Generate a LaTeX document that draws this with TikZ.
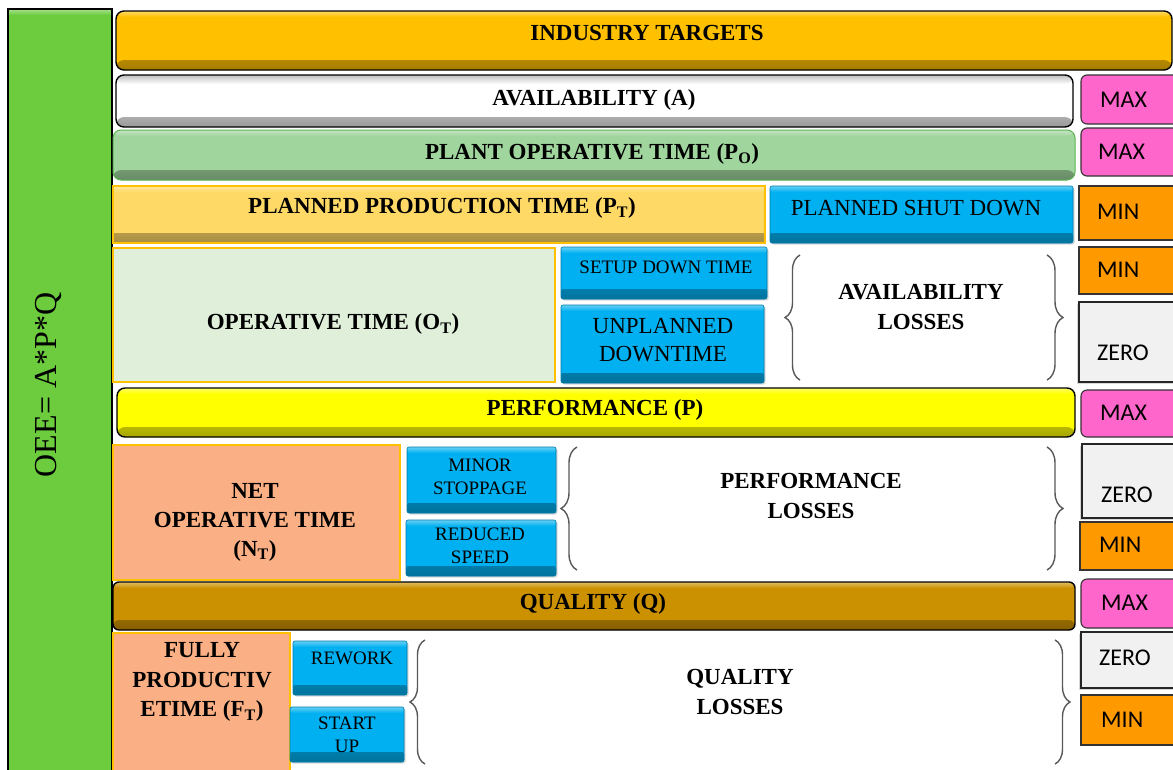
\documentclass[tikz,border=0pt]{standalone}
\usepackage{fontspec}
\setmainfont{Liberation Serif}
\newfontfamily\calfont{Carlito}
\usetikzlibrary{decorations.pathreplacing,shadows}

\definecolor{cOEE}{RGB}{108,204,62}
\definecolor{cGold}{RGB}{255,192,0}
\definecolor{cPlant}{RGB}{160,213,158}
\definecolor{cPlantB}{RGB}{90,180,80}
\definecolor{cPPT}{RGB}{255,217,102}
\definecolor{cBlue}{RGB}{0,176,240}
\definecolor{cOpt}{RGB}{224,239,218}
\definecolor{cYellow}{RGB}{255,255,0}
\definecolor{cSalmon}{RGB}{250,176,132}
\definecolor{cQual}{RGB}{204,145,0}
\definecolor{cPink}{RGB}{255,102,204}
\definecolor{cOrange}{RGB}{255,153,0}
\definecolor{cZero}{RGB}{241,241,241}

\newcommand\bx[6]{\node[#2, minimum width={#5-#3}, minimum height={#6-#4}, inner sep=0pt, outer sep=0pt] (#1) at ({(#3+#5)/2},{(#4+#6)/2}) {};}

\begin{document}
\begin{tikzpicture}[x=1pt,y=-1pt,
  bev/.style={fill=#1, path picture={
     \shade[top color=#1, bottom color=#1!65!black] ([yshift=10pt]path picture bounding box.south west) rectangle (path picture bounding box.south east);
     \shade[top color=#1!60!white, bottom color=#1] (path picture bounding box.north west) rectangle ([yshift=-6pt]path picture bounding box.north east);}},
  oeebar/.style={bev=cOEE, draw=black, line width=1.5pt},
  goldbar/.style={bev=cGold, draw=black, line width=1.4pt, rounded corners=8pt},
  whitebar/.style={fill=white, path picture={
     \shade[top color=white, bottom color=black!40] ([yshift=10pt]path picture bounding box.south west) rectangle (path picture bounding box.south east);
     \shade[top color=black!25, bottom color=white] (path picture bounding box.north west) rectangle ([yshift=-9pt]path picture bounding box.north east);},
     draw=black, line width=1.4pt, rounded corners=8pt},
  plantbar/.style={bev=cPlant, draw=cPlantB, line width=1pt, rounded corners=8pt},
  yellowbar/.style={bev=cYellow, draw=black, line width=1.4pt, rounded corners=8pt},
  qualbar/.style={bev=cQual, draw=black, line width=1.4pt, rounded corners=6pt},
  pptbox/.style={bev=cPPT, draw=cGold, line width=2pt},
  optbox/.style={fill=cOpt, draw=cGold, line width=1.5pt},
  salbox/.style={fill=cSalmon, draw=cGold, line width=1.5pt},
  bluebox/.style={bev=cBlue, draw=cBlue!70!black, line width=0.6pt, rounded corners=2pt,
     drop shadow={opacity=0.3, shadow xshift=1.5pt, shadow yshift=-1.5pt}},
  pinkbox/.style={fill=cPink, draw=black!80, line width=1.1pt, rounded corners=6pt},
  minbox/.style={fill=cOrange, draw=black!80, line width=1.1pt},
  zerobox/.style={fill=cZero, draw=black!85, line width=1.3pt,
     drop shadow={opacity=0.3, shadow xshift=-2pt, shadow yshift=-2pt}},
  lbl/.style={font=\bfseries\fontsize{23}{30}\selectfont, align=center, inner sep=0pt},
  mdl/.style={font=\fontsize{23}{28}\selectfont, align=center, inner sep=0pt},
  sml/.style={font=\fontsize{19}{23.5}\selectfont, align=center, inner sep=0pt},
  tag/.style={font=\calfont\fontsize{24}{28}\selectfont, anchor=west, inner sep=0pt},
  brc/.style={decorate, decoration={brace, amplitude=#1}, line width=1.4pt, draw=black!65}
]
\useasboundingbox (0,0) rectangle (1173,769);
\clip (0,0) rectangle (1173,769);
\fill[white] (0,0) rectangle (1173,769);

% boxes
\bx{oee}{oeebar}{8}{9}{112}{780}
\bx{ind}{goldbar}{116}{11}{1172}{70}
\bx{avl}{whitebar}{116}{75}{1073}{127}
\bx{max1}{pinkbox}{1081}{75}{1190}{124}
\bx{pot}{plantbar}{113}{130}{1075}{180}
\bx{max2}{pinkbox}{1081}{128}{1190}{176}
\bx{ppt}{pptbox}{113}{186}{765}{243}
\bx{psd}{bluebox}{770}{186}{1073}{243}
\bx{min1}{minbox}{1079}{186}{1190}{240}
\bx{opt}{optbox}{113}{248}{555}{382}
\bx{sdt}{bluebox}{561}{247}{767}{299}
\bx{upd}{bluebox}{561}{305}{764}{383}
\bx{min2}{minbox}{1079}{247}{1190}{294}
\bx{zero1}{zerobox}{1079}{302}{1190}{382}
\bx{perf}{yellowbar}{117}{388}{1075}{437}
\bx{max3}{pinkbox}{1081}{390}{1190}{437}
\bx{net}{salbox}{113}{445}{400}{580}
\bx{mst}{bluebox}{407}{447}{556}{513}
\bx{rsp}{bluebox}{406}{520}{556}{576}
\bx{zero2}{zerobox}{1082}{444}{1190}{518}
\bx{min3}{minbox}{1080}{522}{1190}{570}
\bx{qual}{qualbar}{113}{582}{1075}{630}
\bx{max4}{pinkbox}{1081}{579}{1190}{628}
\bx{fpt}{salbox}{113}{633}{290}{780}
\bx{rwk}{bluebox}{293}{641}{407}{695}
\bx{stu}{bluebox}{290}{707}{404}{762}
\bx{zero3}{zerobox}{1081}{632}{1190}{688}
\bx{min4}{minbox}{1081}{695}{1190}{745}

% texts
\node[rotate=90, font=\fontsize{32}{36}\selectfont, inner sep=0pt] (toee) at (48,385) {OEE= A*P*Q};
\node[lbl] (tind) at (647,33) {INDUSTRY TARGETS};
\node[lbl] (tavl) at (594,100) {AVAILABILITY (A)};
\node[lbl] (tpot) at (592,154) {PLANT OPERATIVE TIME (P\textsubscript{O})};
\node[lbl] (tppt) at (442,208) {PLANNED PRODUCTION TIME (P\textsubscript{T})};
\node[mdl] (tpsd) at (916,208) {PLANNED SHUT DOWN};
\node[lbl] (topt) at (333,324) {OPERATIVE TIME (O\textsubscript{T})};
\node[sml] (tsdt) at (666,267) {SETUP DOWN TIME};
\node[mdl] (tupd) at (663,340) {UNPLANNED\\DOWNTIME};
\node[lbl] (tavll) at (921,307) {AVAILABILITY\\LOSSES};
\node[lbl] (tperf) at (595,410) {PERFORMANCE (P)};
\node[lbl, font=\bfseries\fontsize{23}{29}\selectfont] (tnet) at (255,522) {NET\\OPERATIVE TIME\\(N\textsubscript{T})};
\node[sml] (tmst) at (480,477) {MINOR\\STOPPAGE};
\node[sml] (trsp) at (480,546) {REDUCED\\SPEED};
\node[lbl] (tperfl) at (811,496) {PERFORMANCE\\LOSSES};
\node[lbl] (tqual) at (593,604) {QUALITY (Q)};
\node[lbl, font=\bfseries\fontsize{23}{29.5}\selectfont] (tfpt) at (202,682) {FULLY\\PRODUCTIV\\ETIME (F\textsubscript{T})};
\node[sml] (trwk) at (352,658) {REWORK};
\node[sml] (tstu) at (347,735) {START\\UP};
\node[lbl] (tquall) at (740,692) {QUALITY\\LOSSES};

\node[tag] (tmax1) at (1100,100) {MAX};
\node[tag] (tmax2) at (1098,152) {MAX};
\node[tag] (tmin1) at (1097,212) {MIN};
\node[tag] (tmin2) at (1097,270) {MIN};
\node[tag] (tzero1) at (1097,353) {ZERO};
\node[tag] (tmax3) at (1100,413) {MAX};
\node[tag] (tzero2) at (1101,495) {ZERO};
\node[tag] (tmin3) at (1099,545) {MIN};
\node[tag] (tmax4) at (1101,603) {MAX};
\node[tag] (tzero3) at (1099,658) {ZERO};
\node[tag] (tmin4) at (1101,720) {MIN};

% braces
\coordinate (ab1) at (800,380); \coordinate (ab2) at (800,255);
\coordinate (ab3) at (1047,255); \coordinate (ab4) at (1047,380);
\coordinate (pb1) at (577,570); \coordinate (pb2) at (577,447);
\coordinate (pb3) at (1047,447); \coordinate (pb4) at (1047,570);
\coordinate (qb1) at (425,764); \coordinate (qb2) at (425,640);
\coordinate (qb3) at (1055,640); \coordinate (qb4) at (1055,764);
\draw[brc=15pt] (ab1) -- (ab2);
\draw[brc=16pt] (ab3) -- (ab4);
\draw[brc=16pt] (pb1) -- (pb2);
\draw[brc=16pt] (pb3) -- (pb4);
\draw[brc=15pt] (qb1) -- (qb2);
\draw[brc=15pt] (qb3) -- (qb4);
\end{tikzpicture}
\end{document}
